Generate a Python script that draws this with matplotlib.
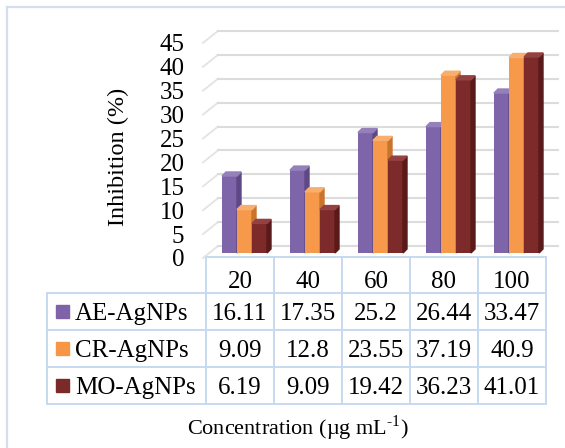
import numpy as np
import matplotlib.pyplot as plt
import matplotlib.transforms as mtransforms
from matplotlib.patches import Polygon, Rectangle

plt.rcParams['font.family'] = 'Liberation Serif'
plt.rcParams['mathtext.fontset'] = 'custom'
plt.rcParams['mathtext.rm'] = 'Liberation Serif'

concentrations = ['20', '40', '60', '80', '100']
series_names = ['AE-AgNPs', 'CR-AgNPs', 'MO-AgNPs']
ae_values = [16.11, 17.35, 25.2, 26.44, 33.47]
cr_values = [9.09, 12.8, 23.55, 37.19, 40.9]
mo_values = [6.19, 9.09, 19.42, 36.23, 41.01]
yticks = list(range(0, 50, 5))

series_values = [ae_values, cr_values, mo_values]
front_colors = ['#7E64A8', '#F6994A', '#7C2A2A']
top_colors = ['#9580BC', '#F8AE6E', '#934141']
side_colors = ['#5E4885', '#C9742C', '#5A1A1A']
legend_colors = ['#7F63A8', '#F79646', '#7B2A2A']

W, H = 565, 448
fig = plt.figure(figsize=(5.65, 4.48), dpi=100)

# overlay in pixel coordinates for frame and data table
ov = fig.add_axes([0, 0, 1, 1])
ov.set_xlim(0, W)
ov.set_ylim(H, 0)
ov.axis('off')

ov.plot([7, 7], [7, H], color='#D3DFEE', lw=1.6)
ov.plot([7, W], [7, 7], color='#D3DFEE', lw=1.6)

# plot axes
ax_left, ax_right = 206, 546
ax_bottom, ax_top = 258, 20
px_unit = 4.78
ux = 1 / 68.0
uy = 1 / px_unit
ax = fig.add_axes([ax_left / W, (H - ax_bottom) / H,
                   (ax_right - ax_left) / W, (ax_bottom - ax_top) / H])
ax.set_xlim(-0.5, 4.5)
ax.set_ylim(0, (ax_bottom - ax_top) / px_unit)
ax.patch.set_alpha(0)
for s in ax.spines.values():
    s.set_visible(False)
ax.set_xticks([])
ax.set_yticks(yticks)
ax.tick_params(axis='y', length=0, pad=15.5, labelsize=18)

# back wall gridlines with a short slanted side-wall part
back = 12
for v in yticks:
    ax.plot([-0.5 - 3 * ux, -0.5 + back * ux], [v, v + back * uy],
            color='#E3E3E3', lw=1.3, clip_on=False, zorder=1)
    ax.plot([-0.5 + back * ux, 4.5 + back * ux], [v + back * uy] * 2,
            color='#DCDCDC', lw=1.5, clip_on=False, zorder=1)

# 3d-looking columns
tr = mtransforms.offset_copy(ax.transData, fig=fig, x=0, y=5, units='dots')
offsets = [-18, -3, 12]
bw = 15 * ux
dx, dy = 4 * ux, 4 * uy
x = np.arange(len(concentrations))
for i, vals in enumerate(series_values):
    lefts = x + offsets[i] * ux
    ax.bar(lefts, vals, width=bw, align='edge', color=front_colors[i],
           transform=tr, clip_on=False, zorder=3 + i)
    for xl, v in zip(lefts, vals):
        xr = xl + bw
        side = Polygon([(xr, 0), (xr + dx, dy), (xr + dx, v + dy), (xr, v)],
                       closed=True, color=side_colors[i], transform=tr,
                       clip_on=False, zorder=3 + i)
        top = Polygon([(xl, v), (xl + dx, v + dy), (xr + dx, v + dy), (xr, v)],
                      closed=True, color=top_colors[i], transform=tr,
                      clip_on=False, zorder=3 + i)
        ax.add_patch(side)
        ax.add_patch(top)

# data table
lc = '#C6D9F0'
col_edges = [206, 274, 342, 410, 478, 546]
row_edges = [257, 293, 330, 367, 404]
tbl_left = 47
ov.plot([col_edges[0], col_edges[-1]], [row_edges[0]] * 2, color=lc, lw=1.4)
for y in row_edges[1:]:
    ov.plot([tbl_left, col_edges[-1]], [y, y], color=lc, lw=1.4)
ov.plot([tbl_left, tbl_left], [row_edges[1], row_edges[-1]], color=lc, lw=1.4)
for xe in col_edges:
    ov.plot([xe, xe], [row_edges[0], row_edges[-1]], color=lc, lw=1.4)

centers = [(col_edges[j] + col_edges[j + 1]) / 2 for j in range(5)]
for j, c in enumerate(concentrations):
    ov.text(centers[j], 288, c, ha='center', va='baseline', fontsize=18)

for i, name in enumerate(series_names):
    yc = (row_edges[i + 1] + row_edges[i + 2]) / 2
    base = yc + 8.5
    ov.add_patch(Rectangle((56, yc - 6.5), 13, 13, color=legend_colors[i]))
    ov.text(75, base, name, ha='left', va='baseline', fontsize=18)
    for j, v in enumerate(series_values[i]):
        ov.text(centers[j], base, f'{v:g}', ha='center', va='baseline', fontsize=18)

ov.text(298, 435, r'Concentration (µg mL$^{\text{-1}}$)',
        ha='center', va='baseline', fontsize=16)
ov.text(118, 157, 'Inhibition (%)', rotation=90, ha='center', va='center',
        fontsize=17.5)

fig.savefig('out.png', dpi=100)
